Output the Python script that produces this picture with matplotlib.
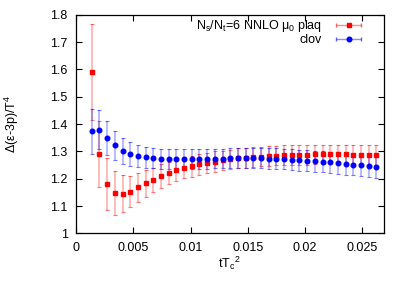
"""Delta(e-3p)/T^4 vs flow time: plaquette vs clover discretisation."""

import matplotlib
matplotlib.use("Agg")
import matplotlib.pyplot as plt
from matplotlib.legend_handler import HandlerErrorbar
from matplotlib.ticker import MultipleLocator, FormatStrFormatter

plt.rcParams.update(
    {
        "font.family": ["Liberation Sans", "DejaVu Sans"],
        "mathtext.default": "regular",
        "font.size": 9,
        "axes.linewidth": 0.9,
    }
)

# flow time t*Tc^2
t_tc2 = [
    0.00137, 0.00204, 0.00271, 0.00339, 0.00406, 0.00473, 0.00540, 0.00607,
    0.00675, 0.00742, 0.00809, 0.00876, 0.00943, 0.01011, 0.01078, 0.01145,
    0.01212, 0.01279, 0.01347, 0.01414, 0.01481, 0.01548, 0.01615, 0.01683,
    0.01750, 0.01817, 0.01884, 0.01951, 0.02019, 0.02086, 0.02153, 0.02220,
    0.02287, 0.02355, 0.02422, 0.02489, 0.02556, 0.02623,
]

plaq_val = [
    1.590, 1.290, 1.180, 1.148, 1.145, 1.153, 1.168, 1.183,
    1.196, 1.210, 1.222, 1.231, 1.240, 1.246, 1.253, 1.258,
    1.263, 1.267, 1.271, 1.275, 1.277, 1.279, 1.281, 1.283,
    1.285, 1.286, 1.287, 1.288, 1.288, 1.289, 1.289, 1.289,
    1.289, 1.289, 1.288, 1.288, 1.287, 1.286,
]
plaq_err = [
    0.175, 0.122, 0.095, 0.080, 0.067, 0.058, 0.052, 0.048,
    0.045, 0.043, 0.041, 0.040, 0.039, 0.038, 0.038, 0.037,
    0.037, 0.036, 0.036, 0.036, 0.036, 0.036, 0.036, 0.036,
    0.036, 0.036, 0.036, 0.036, 0.036, 0.036, 0.036, 0.036,
    0.036, 0.036, 0.036, 0.036, 0.036, 0.036,
]

clov_val = [
    1.374, 1.380, 1.349, 1.322, 1.303, 1.291, 1.283, 1.278,
    1.275, 1.273, 1.272, 1.272, 1.272, 1.272, 1.272, 1.273,
    1.274, 1.274, 1.275, 1.275, 1.275, 1.275, 1.275, 1.274,
    1.273, 1.272, 1.270, 1.268, 1.266, 1.264, 1.262, 1.260,
    1.258, 1.255, 1.252, 1.249, 1.246, 1.243,
]
clov_err = [
    0.083, 0.072, 0.061, 0.053, 0.048, 0.044, 0.040, 0.038,
    0.037, 0.037, 0.036, 0.036, 0.036, 0.036, 0.036, 0.036,
    0.036, 0.036, 0.037, 0.037, 0.037, 0.037, 0.037, 0.037,
    0.038, 0.038, 0.038, 0.038, 0.039, 0.039, 0.039, 0.039,
    0.040, 0.040, 0.040, 0.040, 0.040, 0.040,
]

series = [
    (plaq_val, plaq_err, "#ff0000", "s", 3.4, r"N$_s$/N$_t$=6 NNLO μ$_0$ plaq"),
    (clov_val, clov_err, "#0000ff", "o", 3.3, "clov"),
]

fig = plt.figure(figsize=(4.09, 2.86), dpi=100)
ax = fig.add_axes([0.186, 0.184, 0.753, 0.764])

handles = []
for vals, errs, color, marker, ms, label in series:
    line, caps, bars = ax.errorbar(
        t_tc2, vals, yerr=errs, fmt=marker, color=color, ms=ms,
        ecolor=color, elinewidth=1.4, capsize=1.7, capthick=0.8, zorder=3,
    )
    bars[0].set_alpha(0.28)
    for c in caps:
        c.set_alpha(0.55)
    # dummy handle so the legend shows a horizontal bar like gnuplot
    h = ax.errorbar(
        [float("nan")], [float("nan")], xerr=[float("nan")], fmt=marker,
        color=color, ms=ms, ecolor=color, elinewidth=1.0, capsize=1.7,
        label=label,
    )
    h[2][0].set_alpha(0.45)
    for c in h[1]:
        c.set_alpha(0.6)
    handles.append(h)

ax.set_xlim(0, 0.0269)
ax.set_ylim(1.0, 1.8)
ax.xaxis.set_major_locator(MultipleLocator(0.005))
ax.yaxis.set_major_locator(MultipleLocator(0.1))
ax.xaxis.set_major_formatter(FormatStrFormatter("%g"))
ax.yaxis.set_major_formatter(FormatStrFormatter("%g"))
ax.tick_params(direction="in", length=4, width=0.8, top=True, right=True,
               labelsize=9, pad=6)

leg = ax.legend(
    handles=handles, loc="upper right", bbox_to_anchor=(0.97, 1.025),
    frameon=False, markerfirst=False, handlelength=2.8, handletextpad=0.75,
    labelspacing=0.0, borderpad=0.2, fontsize=9,
    handler_map={h: HandlerErrorbar(xerr_size=1.0) for h in handles},
)

fig.text(0.03, 0.566, r"Δ(ε-3p)/T$^4$", rotation=90, ha="center",
         va="center", fontsize=9)
fig.text(0.56, 0.078, r"tT$_c$$^2$", ha="center", va="center", fontsize=9)

fig.savefig("out.png", dpi=100, facecolor="white")
